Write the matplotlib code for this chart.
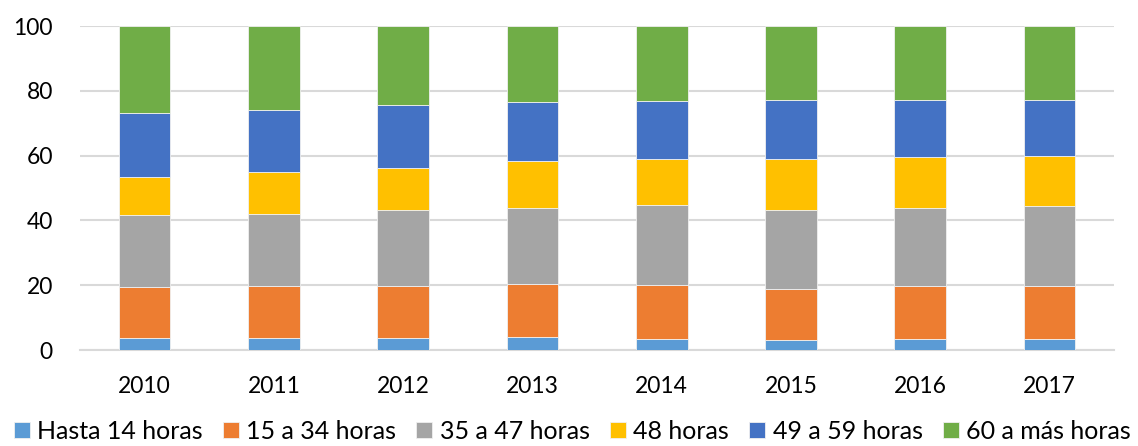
import numpy as np
import matplotlib.pyplot as plt

# Data (percent of workers by weekly hours)
years = ["2010", "2011", "2012", "2013", "2014", "2015", "2016", "2017"]
hasta_14 = [3.8, 3.7, 3.7, 3.9, 3.4, 3.1, 3.3, 3.4]
h15_34 = [15.8, 16.1, 16.2, 16.5, 16.6, 15.8, 16.6, 16.5]
h35_47 = [22.0, 22.2, 23.4, 23.5, 24.7, 24.3, 24.0, 24.7]
h48 = [11.8, 12.8, 13.0, 14.5, 14.2, 15.8, 15.7, 15.3]
h49_59 = [19.9, 19.4, 19.2, 18.0, 17.8, 18.2, 17.7, 17.4]
h60_mas = [26.7, 25.8, 24.5, 23.6, 23.3, 22.8, 22.7, 22.7]

series = [hasta_14, h15_34, h35_47, h48, h49_59, h60_mas]
labels = ["Hasta 14 horas", "15 a 34 horas", "35 a 47 horas",
          "48 horas", "49 a 59 horas", "60 a más horas"]
colors = ["#5B9BD5", "#ED7D31", "#A5A5A5", "#FFC000", "#4472C4", "#70AD47"]

plt.rcParams['font.family'] = ['Lato', 'DejaVu Sans']

fig = plt.figure(figsize=(11.38, 4.46), dpi=100)
ax = fig.add_axes([0.0703, 0.2152, 0.9087, 0.7265])

x = np.arange(len(years))
bottom = np.zeros(len(years))
for vals, lab, col in zip(series, labels, colors):
    ax.bar(x, vals, width=0.4, bottom=bottom, color=col, label=lab,
           edgecolor="#f0f0f0", linewidth=0.6, zorder=3)
    bottom += np.array(vals)

ax.set_xlim(-0.5, len(years) - 0.5)
ax.set_ylim(0, 100)
ax.set_yticks(range(0, 101, 20))
ax.set_xticks(x)
ax.set_xticklabels(years)
ax.grid(axis="y", color="#d9d9d9", linewidth=1.5, zorder=0)
for s in ["top", "right", "left"]:
    ax.spines[s].set_visible(False)
ax.spines["bottom"].set_color("#d9d9d9")
ax.spines["bottom"].set_linewidth(1.5)
ax.tick_params(axis="both", length=0, labelsize=16.5)
ax.tick_params(axis="x", pad=19)
ax.tick_params(axis="y", pad=19.5)

fig.legend(loc="lower center", bbox_to_anchor=(0.503, -0.032), ncol=6,
           frameon=False, fontsize=18, handlelength=0.64, handleheight=0.6,
           handletextpad=0.3, columnspacing=0.8, borderaxespad=0.3)

fig.savefig("out.png", dpi=100)
